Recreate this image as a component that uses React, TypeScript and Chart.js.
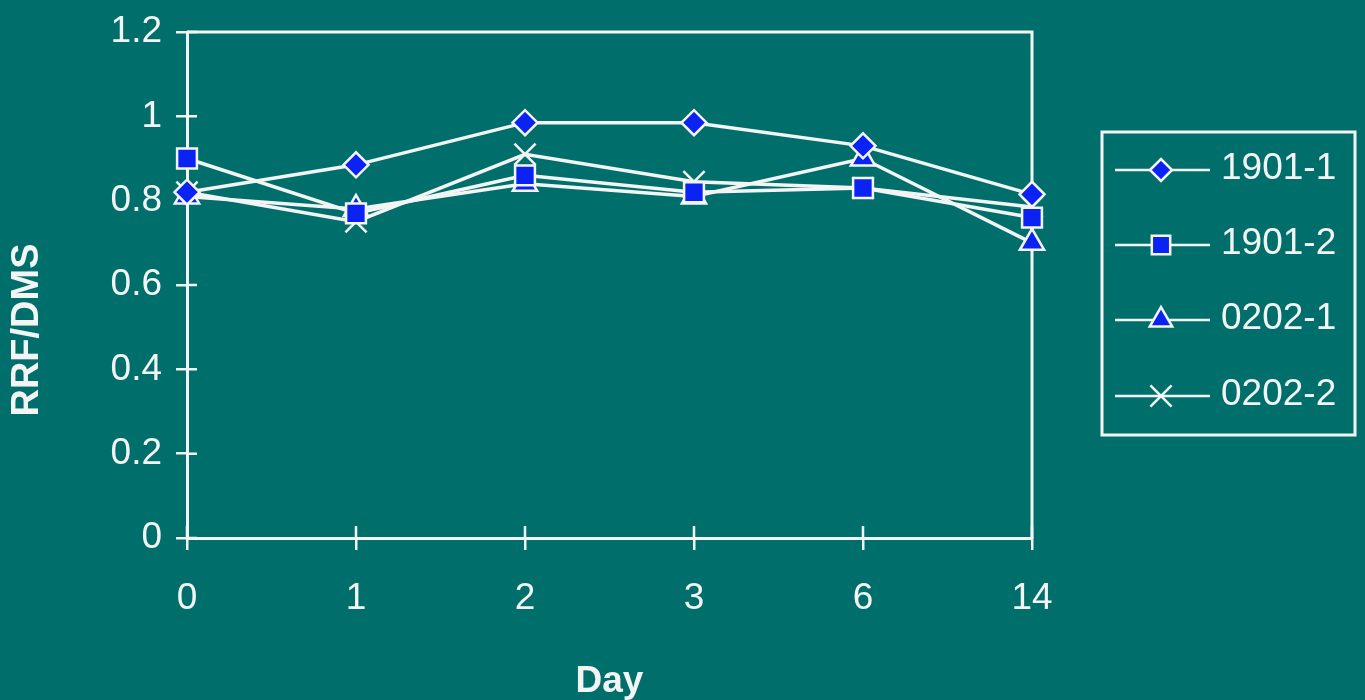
import React, { useEffect, useRef } from 'react';
import { Chart, registerables } from 'chart.js';
import { drawPoint } from 'chart.js/helpers';

Chart.register(...registerables);

const days = ['0', '1', '2', '3', '6', '14'];
const seriesNames = ['1901-1', '1901-2', '0202-1', '0202-2'];
const s1901_1 = [0.82, 0.885, 0.985, 0.985, 0.93, 0.815];
const s1901_2 = [0.9, 0.77, 0.86, 0.82, 0.83, 0.76];
const s0202_1 = [0.81, 0.78, 0.84, 0.81, 0.9, 0.7];
const s0202_2 = [0.82, 0.75, 0.91, 0.845, 0.83, 0.785];
const yMin = 0;
const yMax = 1.2;
const yStep = 0.2;
const xTitle = 'Day';
const yTitle = 'RRF/DMS';

const BG = '#006f6b';
const FG = '#f3f5f5';
const FILL = '#0a22f2';
const FONT = '"Liberation Sans", Arial, sans-serif';

const pointStyles = ['rectRot', 'rect', 'triangle', 'crossRot'];
const pointRadii = [12.5, 14, 14, 15];
const legendRadii = [11, 13, 13, 15];

export default function App() {
  const ref = useRef<HTMLCanvasElement | null>(null);

  useEffect(() => {
    if (!ref.current) return;
    const values = [s1901_1, s1901_2, s0202_1, s0202_2];

    const framePlugin = {
      id: 'frame',
      beforeDatasetsDraw(chart: any) {
        const { ctx, chartArea } = chart;
        const { left, right, top, bottom } = chartArea;
        ctx.save();
        ctx.strokeStyle = FG;
        ctx.lineWidth = 3;
        ctx.beginPath();
        ctx.moveTo(left, top);
        ctx.lineTo(right, top);
        ctx.lineTo(right, bottom);
        ctx.stroke();
        // inner tick stubs
        const xs = chart.scales.x;
        const ys = chart.scales.y;
        ctx.lineWidth = 2.5;
        ctx.beginPath();
        for (let i = 0; i < xs.ticks.length; i++) {
          const px = xs.getPixelForTick(i);
          ctx.moveTo(px, bottom);
          ctx.lineTo(px, bottom - 12);
        }
        for (let i = 0; i < ys.ticks.length; i++) {
          const py = ys.getPixelForTick(i);
          ctx.moveTo(left, py);
          ctx.lineTo(left + 10, py);
        }
        ctx.stroke();
        ctx.restore();
      },
      afterDraw(chart: any) {
        const { ctx } = chart;
        ctx.save();
        // y title
        ctx.fillStyle = FG;
        ctx.font = `bold 38px ${FONT}`;
        ctx.textAlign = 'center';
        ctx.textBaseline = 'middle';
        ctx.translate(28, 330);
        ctx.rotate(-Math.PI / 2);
        ctx.fillText(yTitle, 0, 0);
        ctx.restore();

        // legend
        ctx.save();
        ctx.strokeStyle = FG;
        ctx.lineWidth = 3;
        ctx.strokeRect(1102, 132, 253, 303);
        const itemY = [170, 245, 320, 396];
        for (let i = 0; i < seriesNames.length; i++) {
          const y = itemY[i];
          ctx.strokeStyle = FG;
          ctx.lineWidth = 2.5;
          ctx.beginPath();
          ctx.moveTo(1115, y);
          ctx.lineTo(1210, y);
          ctx.stroke();
          ctx.fillStyle = FILL;
          ctx.strokeStyle = FG;
          ctx.lineWidth = 2.5;
          drawPoint(ctx, { pointStyle: pointStyles[i], rotation: 0, borderWidth: 2.5, radius: legendRadii[i] } as any, 1161, y);
          ctx.fillStyle = FG;
          ctx.font = `37px ${FONT}`;
          ctx.textAlign = 'left';
          ctx.textBaseline = 'middle';
          ctx.fillText(seriesNames[i], 1221, y - 1);
        }
        ctx.restore();
      },
    };

    const chart = new Chart(ref.current, {
      type: 'line',
      data: {
        labels: days,
        datasets: seriesNames.map((name, i) => ({
          label: name,
          data: values[i],
          borderColor: FG,
          borderWidth: 3.5,
          backgroundColor: FILL,
          pointStyle: pointStyles[i] as any,
          pointRadius: pointRadii[i],
          pointHoverRadius: pointRadii[i],
          pointBackgroundColor: FILL,
          pointBorderColor: FG,
          pointBorderWidth: 2.5,
          tension: 0,
          fill: false,
        })),
      },
      options: {
        responsive: false,
        animation: false,
        layout: { padding: { left: 0, top: 32, right: 333, bottom: 0 } },
        plugins: {
          legend: { display: false },
          tooltip: { enabled: false },
        },
        scales: {
          x: {
            type: 'category',
            offset: false,
            grid: { display: true, drawOnChartArea: false, drawTicks: true, tickLength: 12, color: FG, lineWidth: 2.5 },
            border: { display: true, color: FG, width: 3 },
            ticks: { color: FG, font: { size: 37, family: FONT }, padding: 27, maxRotation: 0, autoSkip: false },
            title: { display: true, text: xTitle, color: FG, font: { size: 37, weight: 'bold', family: FONT, lineHeight: 1.0 }, padding: { top: 0, bottom: 0 } },
            afterFit: (s: any) => { s.height = 162; s.paddingLeft = 0; s.paddingRight = 0; },
          },
          y: {
            type: 'linear',
            min: yMin,
            max: yMax,
            grid: { display: true, drawOnChartArea: false, drawTicks: true, tickLength: 11, color: FG, lineWidth: 2.5 },
            border: { display: true, color: FG, width: 3 },
            ticks: {
              stepSize: yStep,
              color: FG,
              font: { size: 37, family: FONT },
              padding: 14,
              callback: (v: any) => String(Math.round(Number(v) * 10) / 10),
            },
            title: { display: false },
            afterFit: (s: any) => { s.width = 187; s.paddingTop = 0; s.paddingBottom = 0; },
          },
        },
      },
      plugins: [framePlugin],
    });
    return () => chart.destroy();
  }, []);

  return (
    <div style={{ position: 'absolute', left: 0, top: 0, width: 1365, height: 700, background: BG }}>
      <canvas ref={ref} width={1365} height={700} />
    </div>
  );
}
